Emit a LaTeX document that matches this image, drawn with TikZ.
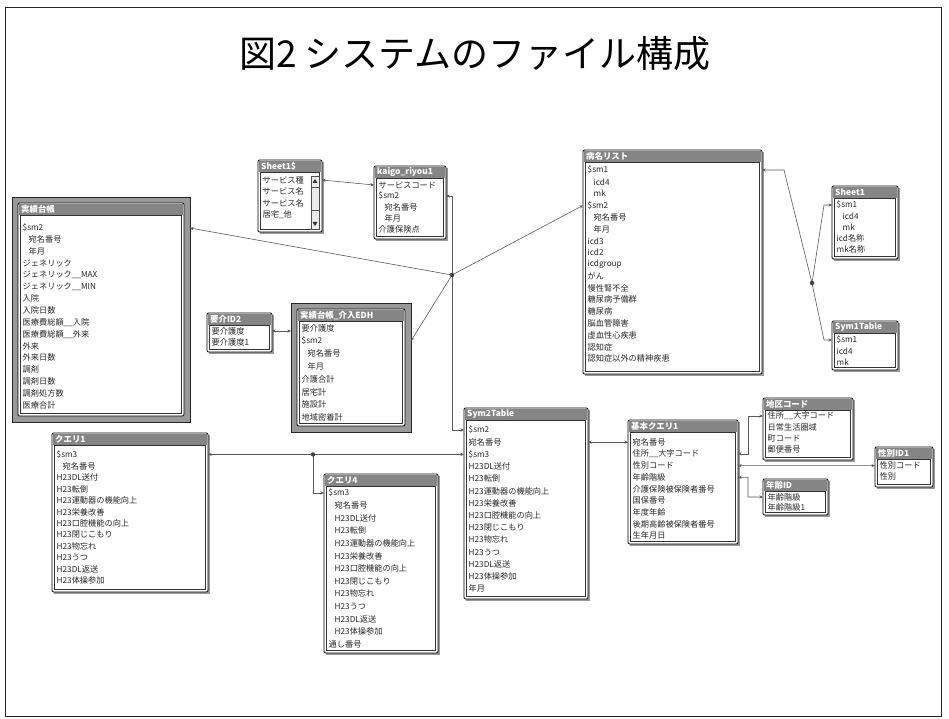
\documentclass[tikz,border=0pt]{standalone}
\usepackage{fontspec}
\setmainfont{Noto Sans CJK JP}
\usetikzlibrary{arrows.meta}
\newcommand{\ind}{\hspace*{6pt}}
\tikzset{
  rel/.style={draw=black!65, line width=0.6pt},
  relarr/.style={rel, -{Stealth[length=3.6pt,width=3.2pt]}},
  reltwo/.style={rel, {Stealth[length=3.6pt,width=3.2pt]}-{Stealth[length=3.6pt,width=3.2pt]}},
  fld/.style={anchor=west, inner sep=0pt, font=\fontsize{8.2}{9}\selectfont, text=black!85},
  hdrtxt/.style={anchor=west, inner sep=0pt, font=\fontsize{8.4}{9}\selectfont\bfseries, text=white},
  titletxt/.style={inner sep=0pt, font=\fontsize{37}{42}\selectfont},
  thickframe/.style={draw=black!85, fill=black!40, line width=0.9pt},
  jdot/.style={fill=black!75}
}
% #1 name, #2 left, #3 top, #4 right, #5 bottom, #6 header, #7 first row y, #8 row step, #9 rows
\newcommand{\dbtable}[9]{%
  \fill[black!40] (#2+2,#3+2) rectangle (#4+2,#5+2);
  \draw[fill=white, line width=0.9pt, rounded corners=1.2pt] (#2,#3) rectangle (#4,#5);
  \fill[black!48] (#2+0.6,#3+0.6) rectangle (#4-0.6,#3+12);
  \draw[black!80, line width=0.4pt] (#2+2.5,#3+12.5) rectangle (#4-2.5,#5-2.5);
  \node[hdrtxt] (#1-h) at (#2+3,#3+6.4) {#6};
  \foreach \t [count=\i] in {#9} {
    \node[fld] (#1-r\i) at (#2+4.5,{#7+(\i-1)*#8}) {\t};
    \coordinate (#1-W\i) at (#2,{#7+(\i-1)*#8});
    \coordinate (#1-E\i) at (#4,{#7+(\i-1)*#8});
  }
}
\begin{document}
\begin{tikzpicture}[x=1pt,y=-1pt]
\useasboundingbox (0,0) rectangle (949,719);
\fill[white] (0,0) rectangle (949,719);
\draw[line width=1pt, black!85] (5,8) rectangle (941,716);
\node[titletxt] (title) at (475,54) {図2 システムのファイル構成};

% thick frames
\draw[thickframe] (12,197) rectangle (190,422);
\draw[thickframe] (291,303) rectangle (411,432);

% tables
\dbtable{T1}{18}{203}{184}{416}{実績台帳}{228}{11.8}{\$sm2,\ind 宛名番号,\ind 年月,ジェネリック,ジェネリック\_\_MAX,ジェネリック\_\_MIN,入院,入院日数,医療費総額\_\_入院,医療費総額\_\_外来,外来,外来日数,調剤,調剤日数,調剤処方数,医療合計}
\dbtable{T2}{258}{160}{322}{232}{Sheet1\$}{180}{11.5}{サービス種,サービス名,サービス名,居宅\_他}
\dbtable{T3}{374}{166}{446}{239}{kaigo\_riyou1}{185}{11}{サービスコード,\$sm2,\ind 宛名番号,\ind 年月,介護保険点}
\dbtable{T4}{207}{313}{272}{352}{要介ID2}{331}{11.5}{要介護度,要介護度1}
\dbtable{T5}{297}{309}{405}{426}{実績台帳\_介入EDH}{328}{12.8}{要介護度,\$sm2,\ind 宛名番号,\ind 年月,介護合計,居宅計,施設計,地域密着計}
\dbtable{B}{583}{150}{762}{374}{病名リスト}{170}{11.8}{\$sm1,\ind icd4,\ind mk,\$sm2,\ind 宛名番号,\ind 年月,icd3,icd2,icdgroup,がん,慢性腎不全,糖尿病予備群,糖尿病,脳血管障害,虚血性心疾患,認知症,認知症以外の精神疾患}
\dbtable{SH}{832}{186}{898}{259}{Sheet1}{205}{11}{\$sm1,\ind icd4,\ind mk,icd名称,mk名称}
\dbtable{SY}{832}{321}{898}{370}{Sym1Table}{340}{11}{\$sm1,icd4,mk}
\dbtable{Q1}{52}{433}{208}{592}{クエリ1}{454.4}{11.5}{\$sm3,\ind 宛名番号,H23DL送付,H23転倒,H23運動器の機能向上,H23栄養改善,H23口腔機能の向上,H23閉じこもり,H23物忘れ,H23うつ,H23DL返送,H23体操参加}
\dbtable{Q4}{324}{474}{438}{653}{クエリ4}{493}{12.6}{\$sm3,\ind 宛名番号,\ind H23DL送付,\ind H23転倒,\ind H23運動器の機能向上,\ind H23栄養改善,\ind H23口腔機能の向上,\ind H23閉じこもり,\ind H23物忘れ,\ind H23うつ,\ind H23DL返送,\ind H23体操参加,通し番号}
\dbtable{S2}{464}{408}{588}{599}{Sym2Table}{430}{12.2}{\$sm2,宛名番号,\$sm3,H23DL送付,H23転倒,H23運動器の機能向上,H23栄養改善,H23口腔機能の向上,H23閉じこもり,H23物忘れ,H23うつ,H23DL返送,H23体操参加,年月}
\dbtable{K}{628}{420}{738}{544}{基本クエリ1}{442.2}{11.7}{宛名番号,住所\_\_大字コード,性別コード,年齢階級,介護保険被保険者番号,国保番号,年度年齢,後期高齢被保険者番号,生年月日}
\dbtable{C}{763}{398}{853}{460}{地区コード}{416}{11.2}{住所\_\_大字コード,日常生活圏域,町コード,郵便番号}
\dbtable{G}{875}{447}{933}{487}{性別ID1}{465.6}{11}{性別コード,性別}
\dbtable{A}{763}{479}{828}{515}{年齢ID}{497}{10.5}{年齢階級,年齢階級1}

% scrollbar of Sheet1$
\draw[black!70, line width=0.4pt, fill=black!8] (311,176) rectangle (319,229);
\fill[black!80] (312.5,183) -- (317.5,183) -- (315,179) -- cycle;
\fill[black!80] (312.5,222) -- (317.5,222) -- (315,226) -- cycle;
\draw[black!70, line width=0.5pt] (311,187) -- (319,187);
\draw[black!70, line width=0.5pt] (311,210) -- (319,210);

% junctions and bends
\coordinate (J1) at (452,275);
\coordinate (J2) at (313,454.4);
\coordinate (J3) at (812,283);
\coordinate (T1p) at (190,228);
\coordinate (T5pl) at (291,331);
\coordinate (T5pr) at (411,340.8);
\coordinate (c1) at (452,196);
\coordinate (c2) at (452,430);
\coordinate (c3) at (784,170);
\coordinate (c4) at (824,205);
\coordinate (c5) at (824,340);
\coordinate (c6) at (313,493);
\coordinate (c7) at (748,453.9);
\coordinate (c8) at (748,416);
\coordinate (c9) at (748,477.3);
\coordinate (c10) at (748,497);

\draw[relarr] (J1) -- (T1p);
\draw[relarr] (J1) -- (T5pr);
\draw[relarr] (J1) -- (B-W4);
\draw[relarr] (J1) -- (c1) -- (T3-E2);
\draw[relarr] (J1) -- (c2) -- (S2-W1);
\draw[reltwo] (T2-E1) -- (T3-W1);
\draw[reltwo] (T4-E1) -- (T5pl);
\draw[relarr] (J3) -- (c3) -- (B-E1);
\draw[relarr] (J3) -- (c4) -- (SH-W1);
\draw[relarr] (J3) -- (c5) -- (SY-W1);
\draw[relarr] (J2) -- (Q1-E1);
\draw[relarr] (J2) -- (S2-W3);
\draw[relarr] (J2) -- (c6) -- (Q4-W1);
\draw[reltwo] (S2-E2) -- (K-W1);
\draw[reltwo] (K-E2) -- (c7) -- (c8) -- (C-W1);
\draw[reltwo] (K-E3) -- (G-W1);
\draw[reltwo] (K-E4) -- (c9) -- (c10) -- (A-W1);
\fill[jdot] (J1) circle[radius=2.2pt];
\fill[jdot] (J2) circle[radius=2.2pt];
\fill[jdot] (J3) circle[radius=2.2pt];
\end{tikzpicture}
\end{document}
